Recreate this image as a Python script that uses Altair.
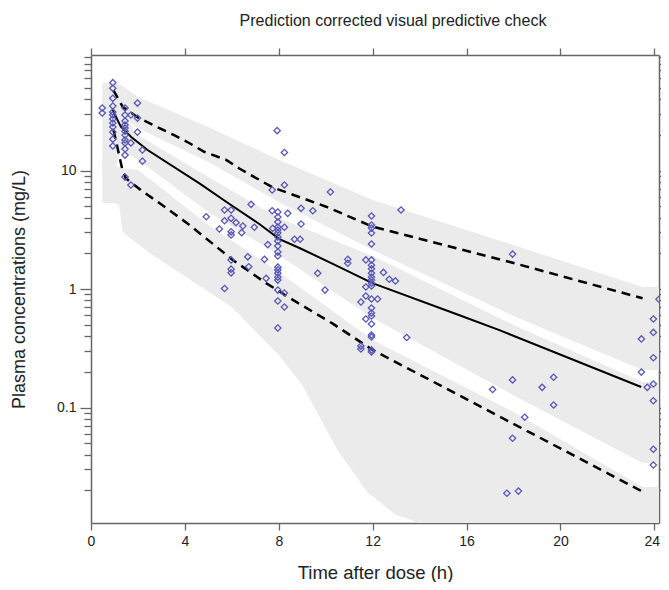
import altair as alt
import pandas as pd

# ---------------- data ----------------
obs_time = (
    [0.48, 0.48]
    + [0.93] * 12
    + [1.45] * 12
    + [1.70] * 3
    + [1.98] * 3
    + [2.19] * 2
    + [4.91, 5.69, 5.97, 5.69, 5.97, 6.18, 6.47, 5.47, 5.97, 5.97, 6.42, 6.96, 6.82,
       6.68, 5.97, 5.97, 5.97, 6.72, 5.69, 7.39, 7.53, 7.46, 7.74, 7.72, 7.72, 7.93]
    + [8.24] * 5
    + [7.96] * 19
    + [8.38, 8.95, 9.45, 8.95, 8.67, 8.91, 10.2, 9.66, 9.97, 10.94, 10.94]
    + [11.95] * 22
    + [11.71] * 4
    + [11.5] * 3
    + [12.21, 12.46, 12.71, 12.97, 13.21, 13.45]
    + [17.11, 17.96, 19.22, 19.71, 19.71, 18.48, 17.96, 17.72, 18.21, 17.96]
    + [24.2, 23.96, 23.96, 23.45, 23.96, 23.45, 23.7, 23.96, 23.96, 23.96, 23.96]
)
obs_conc = (
    [33.7, 30.6]
    + [55.1, 49.4, 40.7, 35.0, 31.2, 29.4, 27.2, 25.2, 23.3, 21.1, 18.4, 16.1]
    + [33.7, 29.4, 26.2, 24.2, 22.8, 21.5, 19.9, 18.1, 17.1, 15.2, 13.5, 8.81]
    + [29.4, 17.1, 7.55]
    + [37.1, 27.7, 21.1]
    + [14.9, 12.0]
    + [4.07, 4.64, 4.64, 3.77, 3.95, 3.63, 3.40, 3.21, 3.04, 2.86, 2.99, 3.32, 5.18,
       1.87, 1.76, 1.47, 1.37, 1.54, 1.01, 1.78, 2.37, 1.23, 3.25, 6.85, 4.58, 21.7]
    + [14.2, 7.55, 3.32, 0.925, 0.705]
    + [4.47, 4.05, 3.68, 3.34, 3.15, 2.97, 2.75, 2.54, 2.31, 2.05, 1.90, 1.53, 1.45,
       1.36, 1.26, 1.19, 0.98, 0.792, 0.469]
    + [4.35, 4.80, 4.58, 3.54, 2.63, 2.63, 6.59, 1.36, 0.98, 1.78, 1.65]
    + [4.13, 3.47, 3.27, 2.97, 2.40, 1.76, 1.59, 1.48, 1.36, 1.26, 1.19, 1.12, 1.06,
       0.823, 0.691, 0.627, 0.592, 0.507, 0.409, 0.394, 0.306, 0.294]
    + [1.76, 1.04, 0.873, 0.558]
    + [0.777, 0.330, 0.312]
    + [0.823, 1.38, 1.21, 1.17, 4.64, 0.390]
    + [0.142, 0.171, 0.148, 0.180, 0.105, 0.0827, 0.055, 0.0189, 0.0197, 1.97]
    + [0.819, 0.558, 0.430, 0.379, 0.263, 0.199, 0.148, 0.158, 0.114, 0.0444, 0.0327]
)

# observed percentiles
med_time = [0.92, 1.27, 1.70, 2.41, 4.62, 5.9, 7.17, 8.03, 8.88, 10.28, 11.99,
            15.7, 17.4, 23.44]
med_conc = [32.4, 23.4, 19.3, 14.9, 7.8, 5.22, 3.54, 2.64, 2.22, 1.64, 1.12,
            0.60, 0.45, 0.149]

p95_time = [0.95, 1.35, 2.0, 2.8, 3.54, 4.2, 4.82, 5.76, 6.32, 7.74, 10.02, 12.0, 17.8, 23.5]
p95_conc = [47.8, 34.5, 28.0, 23.4, 19.9, 17.0, 14.4, 12.3, 10.4, 7.2, 4.95, 3.36, 1.70, 0.835]

p05_time = [0.96, 1.34, 1.48, 2.12, 2.83, 4.11, 6.04, 7.46, 8.6, 10.3, 12.0, 17.82, 23.5]
p05_conc = [22.0, 10.1, 8.6, 6.85, 5.46, 3.58, 1.76, 1.12, 0.81, 0.51, 0.306, 0.076, 0.0195]

# simulated confidence bands
band_time = [0.48, 1.0, 1.3, 2.0, 5.0, 8.0, 12.0, 18.0, 23.5, 24.2]
upper_hi = [54.7, 54.7, 52.7, 41.7, 23.3, 12.3, 5.64, 2.35, 1.04, 1.04]
upper_lo = [32.4, 32.4, 29.4, 22.8, 11.8, 5.42, 2.13, 0.592, 0.207, 0.207]
median_hi = [39.4, 39.4, 32.4, 19.9, 8.81, 3.97, 1.90, 0.497, 0.164, 0.164]
median_lo = [10.0, 10.0, 14.9, 12.3, 4.47, 1.94, 0.569, 0.127, 0.034, 0.034]

low_time = [0.48, 1.0, 1.2, 1.35, 2.0, 2.5, 5.0, 6.0, 8.0, 9.0, 10.5, 11.8, 12.0,
            13.0, 14.0, 18.0, 23.5, 24.2]
lower_hi = [11.1, 11.1, 10.7, 10.5, 10.1, 8.5, 3.47, 2.56, 1.39, 1.0, 0.61, 0.397,
            0.371, 0.294, 0.233, 0.0916, 0.0213, 0.0213]
lower_lo = [5.32, 5.32, 5.12, 3.03, 2.4, 2.01, 0.95, 0.705, 0.277, 0.155, 0.0438,
            0.0190, 0.0177, 0.0124, 0.0106, 0.0106, 0.0106, 0.0106]

x_ticks = [0, 4, 8, 12, 16, 20, 24]
Y_DOMAIN = [0.0106, 94.4]
X_DOMAIN = [0, 24.2]

# ---------------- chart ----------------
FONT = "Liberation Sans"
GREY = "#ebebeb"
AXIS_COLOR = "#666666"
PT_COLOR = "#5858b4"

obs = pd.DataFrame({"t": obs_time, "c": obs_conc})
med = pd.DataFrame({"t": med_time, "c": med_conc})
p95 = pd.DataFrame({"t": p95_time, "c": p95_conc})
p05 = pd.DataFrame({"t": p05_time, "c": p05_conc})
band = pd.DataFrame({"t": band_time, "uh": upper_hi, "ul": upper_lo,
                     "mh": median_hi, "ml": median_lo})
lowb = pd.DataFrame({"t": low_time, "lh": lower_hi, "ll": lower_lo})

x_scale = alt.Scale(domain=X_DOMAIN, nice=False, zero=False)
y_scale = alt.Scale(type="log", domain=Y_DOMAIN, nice=False)

minor = sorted(set(round(k * 10 ** p, 6) for p in (-2, -1, 0, 1) for k in range(1, 10)))
minor = [v for v in minor if Y_DOMAIN[0] <= v <= Y_DOMAIN[1]]
major_test = "datum.value == 0.1 || datum.value == 1 || datum.value == 10"
label_expr = ("datum.value == 0.1 ? '0.1' : datum.value == 1 ? '1' : "
              "datum.value == 10 ? '10' : ''")
tick_size = {"condition": {"test": major_test, "value": 11}, "value": 7}
last_label_shift = {"condition": {"test": "datum.value == 24", "value": -2.5}, "value": 0}

common_axis = dict(domainColor=AXIS_COLOR, tickColor=AXIS_COLOR, domainWidth=1.5,
                   tickWidth=1.3, grid=False, labelFont=FONT, titleFont=FONT,
                   labelColor="#222", titleColor="#222", labelFontSize=14,
                   titleFontWeight="normal")

x_axis_bottom = alt.Axis(values=x_ticks, tickSize=7, labelPadding=4, titlePadding=15,
                         labelFlush=False, labelOffset=last_label_shift,
                         titleFontSize=18.5, **common_axis)
y_axis_left = alt.Axis(values=minor, labelExpr=label_expr, tickSize=tick_size,
                       labelPadding=4, titlePadding=28, titleFontSize=18,
                       **common_axis)
x_axis_top = alt.Axis(orient="top", values=x_ticks, tickSize=7, labels=False, **common_axis)
y_axis_right = alt.Axis(orient="right", values=minor, tickSize=tick_size, labels=False,
                        **common_axis)

upper_band = alt.Chart(band).mark_area(color=GREY).encode(
    x=alt.X("t:Q", scale=x_scale, axis=x_axis_bottom, title="Time after dose (h)"),
    y=alt.Y("uh:Q", scale=y_scale, axis=y_axis_left,
            title="Plasma concentrations (mg/L)"),
    y2="ul:Q",
)
median_band = alt.Chart(band).mark_area(color=GREY).encode(
    x=alt.X("t:Q", scale=x_scale, axis=None),
    y=alt.Y("mh:Q", scale=y_scale, axis=None),
    y2="ml:Q",
)
lower_band = alt.Chart(lowb).mark_area(color=GREY).encode(
    x=alt.X("t:Q", scale=x_scale, axis=None),
    y=alt.Y("lh:Q", scale=y_scale, axis=None),
    y2="ll:Q",
)

def pct_line(df, dashed):
    kw = dict(color="black", strokeWidth=2.5 if dashed else 2.0)
    if dashed:
        kw["strokeDash"] = [9, 6]
    return alt.Chart(df).mark_line(**kw).encode(
        x=alt.X("t:Q", scale=x_scale, axis=None),
        y=alt.Y("c:Q", scale=y_scale, axis=None),
    )

points = alt.Chart(obs).mark_point(
    shape="diamond", filled=False, color=PT_COLOR, size=40, strokeWidth=1.3,
    clip=True, opacity=1,
).encode(
    x=alt.X("t:Q", scale=x_scale, axis=None),
    y=alt.Y("c:Q", scale=y_scale, axis=None),
)

frame = alt.Chart(pd.DataFrame({"t": [1.0], "c": [1.0]})).mark_point(opacity=0).encode(
    x=alt.X("t:Q", scale=x_scale, axis=x_axis_top, title=None),
    y=alt.Y("c:Q", scale=y_scale, axis=y_axis_right, title=None),
)

chart = alt.layer(
    upper_band, median_band, lower_band,
    pct_line(p95, True), pct_line(p05, True), pct_line(med, False),
    points, frame,
).resolve_axis(x="independent", y="independent").properties(
    width=568,
    height=468,
    padding={"left": 83, "top": 47, "right": 2, "bottom": 59},
    autosize=alt.AutoSizeParams(type="none"),
    title=alt.TitleParams("Prediction corrected visual predictive check", font=FONT,
                          fontSize=16, fontWeight="normal", color="#222",
                          anchor="middle", frame="group", offset=18, dx=18),
).configure_view(strokeWidth=0)

chart.save("out.html", embed_options={"renderer": "svg", "actions": False})
